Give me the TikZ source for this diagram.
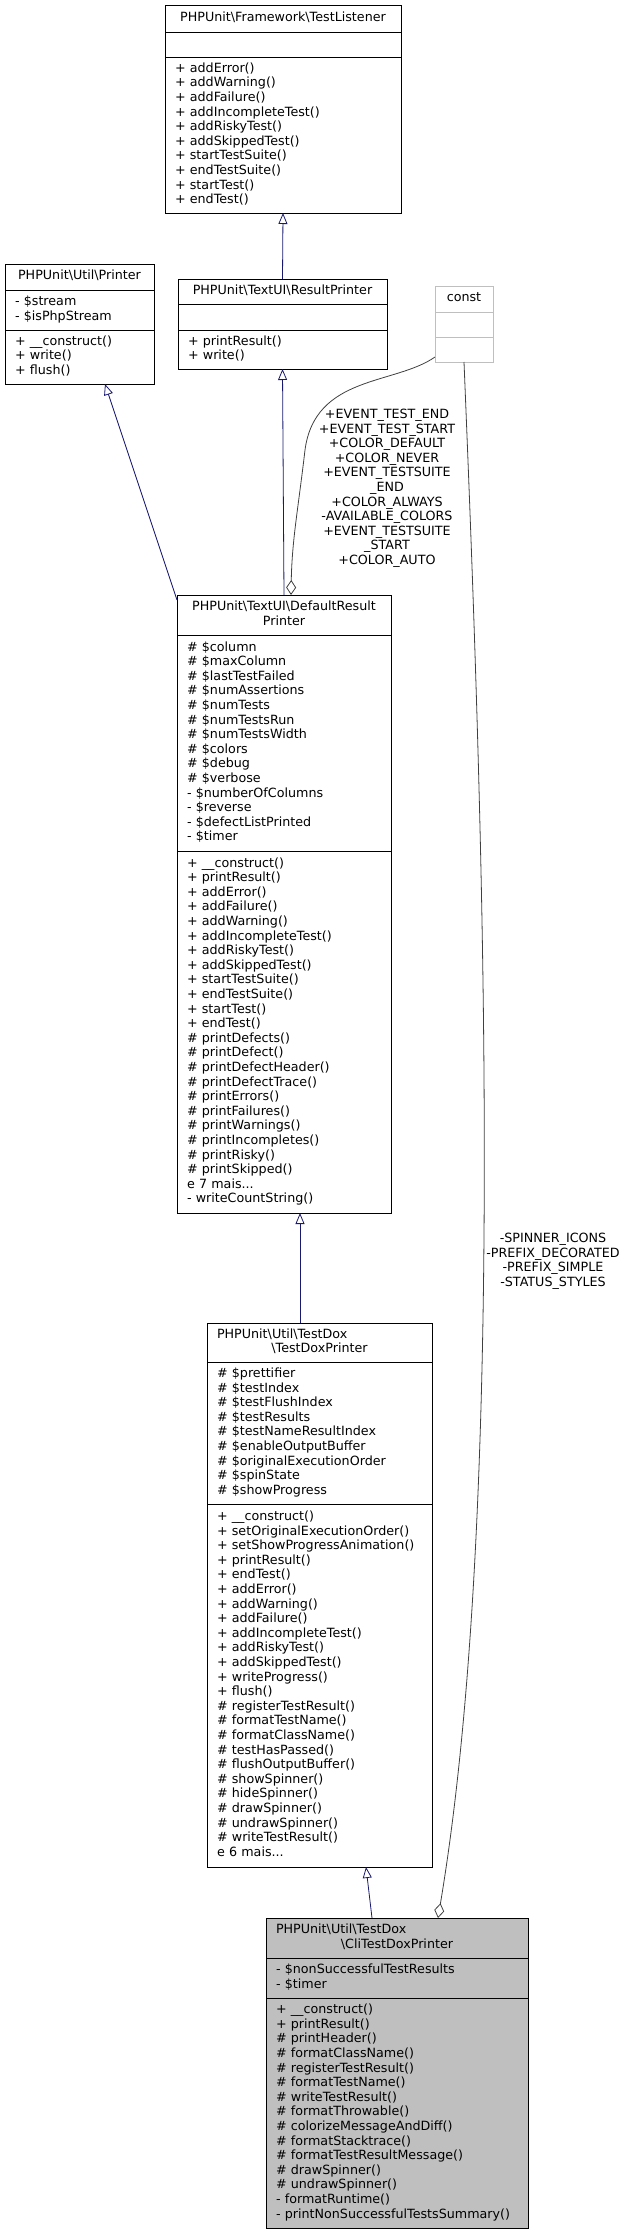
\documentclass[tikz,border=0pt]{standalone}
\usepackage{fontspec}
\setmainfont{DejaVu Sans}
\usepackage{tikz}
\usetikzlibrary{arrows.meta,calc,positioning}
\definecolor{umlblue}{HTML}{191970}
\definecolor{umlgray}{HTML}{404040}
\definecolor{umlfill}{HTML}{BFBFBF}
\tikzset{
  umlfont/.style={font=\fontsize{12.7pt}{14.6pt}\selectfont},
  classhead/.style={draw, fill=white, line width=0.9pt, outer sep=0pt, anchor=north, align=center, inner xsep=10pt, inner ysep=0pt, umlfont,
    execute at begin node=\strut, execute at end node=\strut},
  classpart/.style={classhead, align=left},
  inherit/.style={draw=umlblue, line width=0.8pt, -{Triangle[open, length=11pt, width=9pt]}},
  aggr/.style={draw=umlgray, line width=0.8pt, -{Diamond[open, length=15pt, width=10pt]}},
  constlbl/.style={umlfont, align=center, inner sep=0pt, execute at begin node=\strut, execute at end node=\strut}
}

\begin{document}
\begin{tikzpicture}[x=1pt,y=-1pt]
  \useasboundingbox (0,0) rectangle (628,2235);

  % TestListener
  \node[classhead, text width=216pt, minimum height=27pt] (tl) at (283,5) {PHPUnit\textbackslash Framework\textbackslash TestListener};
  \node[classpart, text width=216pt, minimum height=25pt, below=0pt of tl] (tlA) {};
  \node[classpart, text width=216pt, minimum height=156pt, below=0pt of tlA] (tlO) {+ addError()\\+ addWarning()\\+ addFailure()\\+ addIncompleteTest()\\+ addRiskyTest()\\+ addSkippedTest()\\+ startTestSuite()\\+ endTestSuite()\\+ startTest()\\+ endTest()};

  % Printer
  \node[classhead, text width=129pt, minimum height=26pt] (pr) at (79.5,264) {PHPUnit\textbackslash Util\textbackslash Printer};
  \node[classpart, text width=129pt, minimum height=40pt, below=0pt of pr] (prA) {- \$stream\\- \$isPhpStream};
  \node[classpart, text width=129pt, minimum height=54pt, below=0pt of prA] (prO) {+ \_\_construct()\\+ write()\\+ flush()};

  % ResultPrinter
  \node[classhead, text width=189pt, minimum height=25pt] (rp) at (282.5,279) {PHPUnit\textbackslash TextUI\textbackslash ResultPrinter};
  \node[classpart, text width=189pt, minimum height=26pt, below=0pt of rp] (rpA) {};
  \node[classpart, text width=189pt, minimum height=39pt, below=0pt of rpA] (rpO) {+ printResult()\\+ write()};

  % const
  \node[classhead, draw=umlfill, text width=38pt, minimum height=26pt] (cst) at (464,286) {const};
  \node[classpart, draw=umlfill, text width=38pt, minimum height=25pt, below=0pt of cst] (cstA) {};
  \node[classpart, draw=umlfill, text width=38pt, minimum height=25pt, below=0pt of cstA] (cstO) {};

  % DefaultResultPrinter
  \node[classhead, text width=194pt, minimum height=40pt] (drp) at (284,595) {PHPUnit\textbackslash TextUI\textbackslash DefaultResult\\Printer};
  \node[classpart, text width=194pt, minimum height=216pt, below=0pt of drp] (drpA) {\# \$column\\\# \$maxColumn\\\# \$lastTestFailed\\\# \$numAssertions\\\# \$numTests\\\# \$numTestsRun\\\# \$numTestsWidth\\\# \$colors\\\# \$debug\\\# \$verbose\\- \$numberOfColumns\\- \$reverse\\- \$defectListPrinted\\- \$timer};
  \node[classpart, text width=194pt, minimum height=362pt, below=0pt of drpA] (drpO) {+ \_\_construct()\\+ printResult()\\+ addError()\\+ addFailure()\\+ addWarning()\\+ addIncompleteTest()\\+ addRiskyTest()\\+ addSkippedTest()\\+ startTestSuite()\\+ endTestSuite()\\+ startTest()\\+ endTest()\\\# printDefects()\\\# printDefect()\\\# printDefectHeader()\\\# printDefectTrace()\\\# printErrors()\\\# printFailures()\\\# printWarnings()\\\# printIncompletes()\\\# printRisky()\\\# printSkipped()\\e 7 mais...\\- writeCountString()};

  % TestDoxPrinter
  \node[classhead, text width=205pt, minimum height=39pt] (tdp) at (319.5,1323) {\makebox[205pt][l]{PHPUnit\textbackslash Util\textbackslash TestDox}\\\textbackslash TestDoxPrinter};
  \node[classpart, text width=205pt, minimum height=142pt, below=0pt of tdp] (tdpA) {\# \$prettifier\\\# \$testIndex\\\# \$testFlushIndex\\\# \$testResults\\\# \$testNameResultIndex\\\# \$enableOutputBuffer\\\# \$originalExecutionOrder\\\# \$spinState\\\# \$showProgress};
  \node[classpart, text width=205pt, minimum height=363pt, below=0pt of tdpA] (tdpO) {+ \_\_construct()\\+ setOriginalExecutionOrder()\\+ setShowProgressAnimation()\\+ printResult()\\+ endTest()\\+ addError()\\+ addWarning()\\+ addFailure()\\+ addIncompleteTest()\\+ addRiskyTest()\\+ addSkippedTest()\\+ writeProgress()\\+ flush()\\\# registerTestResult()\\\# formatTestName()\\\# formatClassName()\\\# testHasPassed()\\\# flushOutputBuffer()\\\# showSpinner()\\\# hideSpinner()\\\# drawSpinner()\\\# undrawSpinner()\\\# writeTestResult()\\e 6 mais...};

  % CliTestDoxPrinter
  \node[classhead, fill=umlfill, text width=242pt, minimum height=40pt] (cli) at (397,1918) {\makebox[242pt][l]{PHPUnit\textbackslash Util\textbackslash TestDox}\\\textbackslash CliTestDoxPrinter};
  \node[classpart, fill=umlfill, text width=242pt, minimum height=40pt, below=0pt of cli] (cliA) {- \$nonSuccessfulTestResults\\- \$timer};
  \node[classpart, fill=umlfill, text width=242pt, minimum height=230pt, below=0pt of cliA] (cliO) {+ \_\_construct()\\+ printResult()\\\# printHeader()\\\# formatClassName()\\\# registerTestResult()\\\# formatTestName()\\\# writeTestResult()\\\# formatThrowable()\\\# colorizeMessageAndDiff()\\\# formatStacktrace()\\\# formatTestResultMessage()\\\# drawSpinner()\\\# undrawSpinner()\\- formatRuntime()\\- printNonSuccessfulTestsSummary()};

  % inheritance
  \draw[inherit] (rp.north) -- (tlO.south);
  \draw[inherit] (drp.north) -- (rpO.south);
  \draw[inherit] ([yshift=-5pt]drp.north west) -- ([xshift=25.5pt]prO.south);
  \draw[inherit] ([xshift=-19.5pt]tdp.north) -- ([xshift=16pt]drpO.south);
  \draw[inherit] ([xshift=-25pt]cli.north) -- ([xshift=46.5pt]tdpO.south);

  % constants
  \draw[aggr] ([yshift=5pt]cstO.south west) .. controls (395,385) and (315,375) .. (305,450) .. controls (298,510) and (292,540) .. ([xshift=7pt]drp.north);
  \draw[aggr] (cstO.south) .. controls (482,800) and (508,1500) .. ([xshift=41pt]cli.north);

  \node[constlbl] (lblA) at (387,489) {+EVENT\_TEST\_END\\+EVENT\_TEST\_START\\+COLOR\_DEFAULT\\+COLOR\_NEVER\\+EVENT\_TESTSUITE\\\_END\\+COLOR\_ALWAYS\\-AVAILABLE\_COLORS\\+EVENT\_TESTSUITE\\\_START\\+COLOR\_AUTO};
  \node[constlbl] (lblB) at (553,1262) {-SPINNER\_ICONS\\-PREFIX\_DECORATED\\-PREFIX\_SIMPLE\\-STATUS\_STYLES};
\end{tikzpicture}
\end{document}
